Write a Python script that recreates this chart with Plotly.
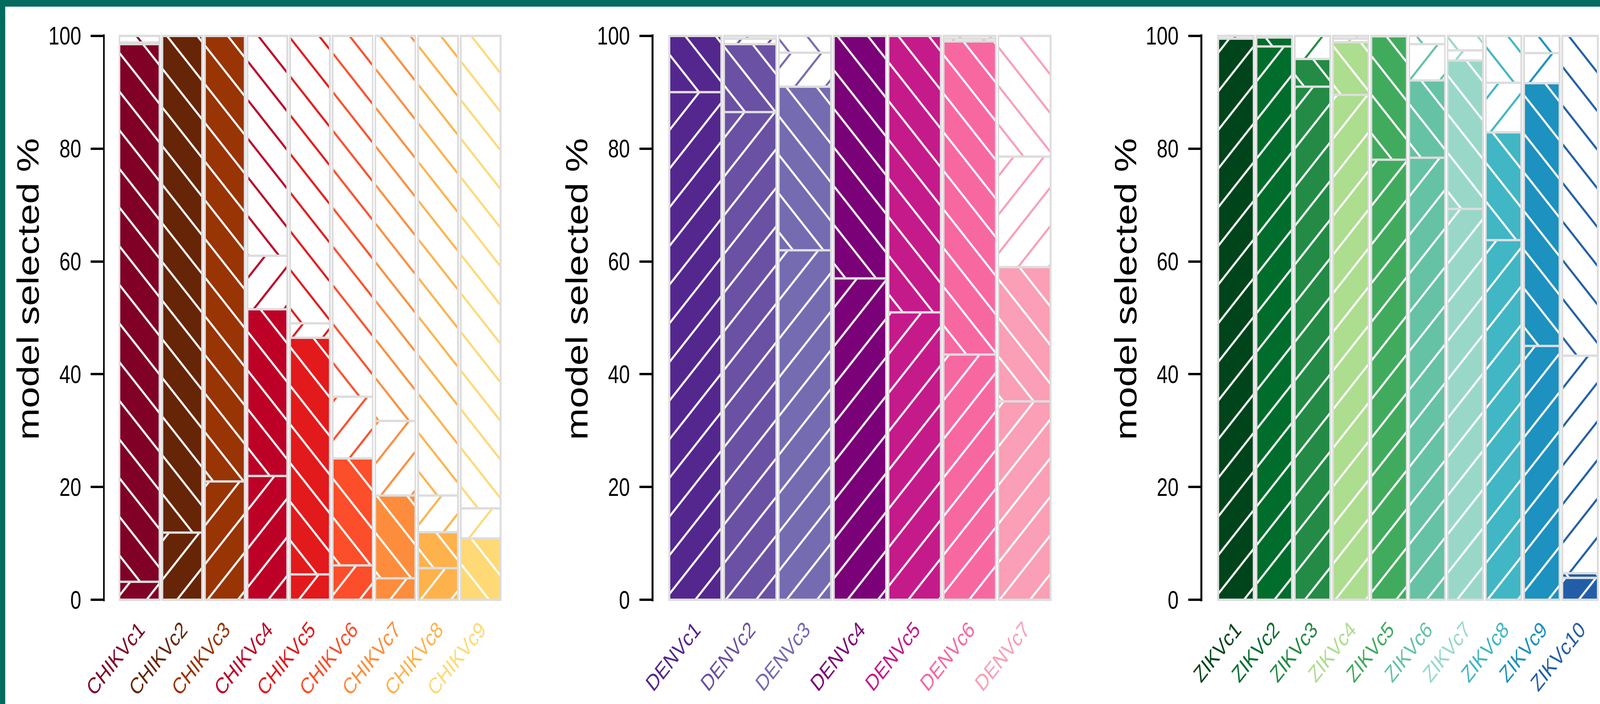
import plotly.graph_objects as go

# ---------------- data ----------------
chikv_labels = ["CHIKVc1", "CHIKVc2", "CHIKVc3", "CHIKVc4", "CHIKVc5",
                "CHIKVc6", "CHIKVc7", "CHIKVc8", "CHIKVc9"]
chikv_colors = ["#800026", "#662506", "#993404", "#bd0026", "#e31a1c",
                "#fc4e2a", "#fd8d3c", "#feb24c", "#fed976"]
chikv_fill_fwd = [3.2, 11.9, 21.0, 22.0, 4.5, 6.1, 3.8, 5.6, 0.0]
chikv_fill_back = [95.3, 88.1, 79.0, 29.5, 42.0, 19.0, 14.7, 6.4, 10.9]
chikv_open_fwd = [0.3, 0.0, 0.0, 9.5, 2.5, 10.9, 13.2, 6.5, 5.3]
chikv_open_back = [1.2, 0.0, 0.0, 39.0, 51.0, 64.0, 68.3, 81.5, 83.8]

denv_labels = ["DENVc1", "DENVc2", "DENVc3", "DENVc4", "DENVc5", "DENVc6", "DENVc7"]
denv_colors = ["#54278f", "#6a51a3", "#756bb1", "#7a0177", "#c51b8a", "#f768a1", "#fa9fb5"]
denv_fill_fwd = [90.0, 86.5, 62.0, 57.0, 51.0, 43.5, 35.2]
denv_fill_back = [10.0, 12.0, 29.0, 43.0, 49.0, 55.5, 23.8]
denv_open_fwd = [0.0, 1.0, 6.0, 0.0, 0.0, 0.5, 19.6]
denv_open_back = [0.0, 0.5, 3.0, 0.0, 0.0, 0.5, 21.4]

zikv_labels = ["ZIKVc1", "ZIKVc2", "ZIKVc3", "ZIKVc4", "ZIKVc5",
               "ZIKVc6", "ZIKVc7", "ZIKVc8", "ZIKVc9", "ZIKVc10"]
zikv_colors = ["#00441b", "#006d2c", "#238b45", "#addd8e", "#41ab5d",
               "#66c2a4", "#99d8c9", "#41b6c4", "#1d91c0", "#225ea8"]
zikv_fill_fwd = [99.5, 98.1, 91.0, 89.5, 78.0, 78.4, 69.3, 63.8, 45.0, 3.9]
zikv_fill_back = [0.0, 1.6, 4.9, 9.4, 21.9, 13.7, 26.3, 19.1, 46.6, 0.8]
zikv_open_fwd = [0.0, 0.0, 4.1, 0.6, 0.0, 6.4, 1.8, 8.8, 5.3, 38.6]
zikv_open_back = [0.5, 0.3, 0.0, 0.5, 0.1, 1.5, 2.6, 8.3, 3.1, 56.7]

y_ticks = [0, 20, 40, 60, 80, 100]
y_title = "model selected %"

# ---------------- layout geometry (pixels) ----------------
W, H = 5205, 1803
M_T, M_B = 88, 263
PLOT_H = H - M_T - M_B
Y_RANGE = [-0.25, 100.25]
FONT = "Liberation Sans, Arial, sans-serif"
TEAL = "#016b5d"
GREY = "#dddddd"
HATCH_SIZE = 70
HATCH_SOLIDITY = 0.086

panels = [
    dict(labels=chikv_labels, colors=chikv_colors,
         segs=[chikv_fill_fwd, chikv_fill_back, chikv_open_fwd, chikv_open_back],
         axis_px=338, first_edge=389, pitch=138.7),
    dict(labels=denv_labels, colors=denv_colors,
         segs=[denv_fill_fwd, denv_fill_back, denv_open_fwd, denv_open_back],
         axis_px=2123, first_edge=2177, pitch=178.5),
    dict(labels=zikv_labels, colors=zikv_colors,
         segs=[zikv_fill_fwd, zikv_fill_back, zikv_open_fwd, zikv_open_back],
         axis_px=3908, first_edge=3963, pitch=124.4),
]


def ypaper(px):
    return (H - M_B - px) / PLOT_H


fig = go.Figure()
annotations = []
layout_axes = {}

for k, p in enumerate(panels):
    n = len(p["labels"])
    sfx = "" if k == 0 else str(k + 1)
    xref, yref = "x" + sfx, "y" + sfx
    pitch = p["pitch"]
    bar_px = pitch - 9
    c0 = p["first_edge"] + bar_px / 2
    d_left = p["axis_px"] + 3
    d_right = min(W, p["first_edge"] + (n - 1) * pitch + bar_px + 6)
    r0 = (d_left - c0) / pitch
    r1 = (d_right - c0) / pitch
    wcat = bar_px / pitch
    xs = list(range(n))
    cols = p["colors"]
    whites = ["white"] * n
    # (hatch shape, background colours, line colours)
    styles = [("/", cols, whites), ("\\", cols, whites),
              ("/", whites, cols), ("\\", whites, cols)]
    for seg, (shape, bg, fg) in zip(p["segs"], styles):
        fig.add_trace(go.Bar(
            x=xs, y=seg, width=wcat, xaxis=xref, yaxis=yref,
            showlegend=False, hoverinfo="skip",
            marker=dict(
                color="white",  # scalar so the per-bar pattern colours are honoured
                line=dict(color=GREY, width=6),
                pattern=dict(shape=shape, bgcolor=bg, fgcolor=fg,
                             size=HATCH_SIZE, solidity=HATCH_SOLIDITY,
                             fillmode="replace"),
            ),
        ))
    ticktext = [f"<span style='color:{c}'>{t}</span>" for t, c in zip(p["labels"], cols)]
    layout_axes["xaxis" + sfx] = dict(
        domain=[d_left / W, d_right / W], range=[r0, r1], anchor=yref,
        showline=False, showgrid=False, zeroline=False, ticks="",
        tickmode="array", tickvals=xs, ticktext=ticktext, tickangle=-45,
        tickfont=dict(size=58, family=FONT), ticklabelstandoff=26,
        automargin=False, fixedrange=True)
    layout_axes["yaxis" + sfx] = dict(
        domain=[0, 1], range=Y_RANGE, anchor=xref,
        tickmode="array", tickvals=y_ticks, ticktext=[str(v) for v in y_ticks],
        ticks="outside", ticklen=40, tickwidth=6, tickcolor="black",
        showline=True, linewidth=6, linecolor="black",
        showgrid=False, zeroline=False,
        tickfont=dict(size=64, family=FONT, color="black"),
        ticklabelstandoff=18, automargin=False, fixedrange=True)
    annotations.append(dict(
        text=y_title, textangle=-90, showarrow=False,
        xref="paper", yref="paper",
        x=(p["axis_px"] - 246) / W, y=ypaper(740),
        xanchor="center", yanchor="middle",
        font=dict(size=98, family=FONT, color="black"),
    ))

shapes = [
    dict(type="rect", xref="paper", yref="paper", layer="above",
         x0=0, x1=1, y0=ypaper(17), y1=ypaper(0),
         fillcolor=TEAL, line=dict(width=0)),
    dict(type="rect", xref="paper", yref="paper", layer="above",
         x0=0, x1=17 / W, y0=ypaper(H), y1=ypaper(0),
         fillcolor=TEAL, line=dict(width=0)),
]

fig.update_layout(
    template="none",
    width=W, height=H,
    margin=dict(l=0, r=0, t=M_T, b=M_B, pad=0),
    paper_bgcolor="white", plot_bgcolor="white",
    barmode="stack", bargap=0,
    font=dict(family=FONT, color="black"),
    annotations=annotations, shapes=shapes,
    showlegend=False,
    **layout_axes,
)

# Fit the fixed-size figure exactly into whatever viewport the page is shown in.
fit_js = """
(function(){
  var gd = document.getElementById('{plot_id}');
  function fit(){
    var vw = window.innerWidth, vh = window.innerHeight;
    var de = document.documentElement, b = document.body;
    [de, b].forEach(function(e){
      e.style.margin = '0'; e.style.padding = '0'; e.style.overflow = 'hidden';
      e.style.width = vw + 'px'; e.style.height = vh + 'px';
    });
    gd.style.transformOrigin = '0 0';
    gd.style.transform = 'scale(' + (vw / %d) + ',' + (vh / %d) + ')';
  }
  fit();
  window.addEventListener('resize', fit);
})();
""" % (W, H)

fig.write_html("out.html", post_script=fit_js,
               config={"displayModeBar": False, "staticPlot": True})
